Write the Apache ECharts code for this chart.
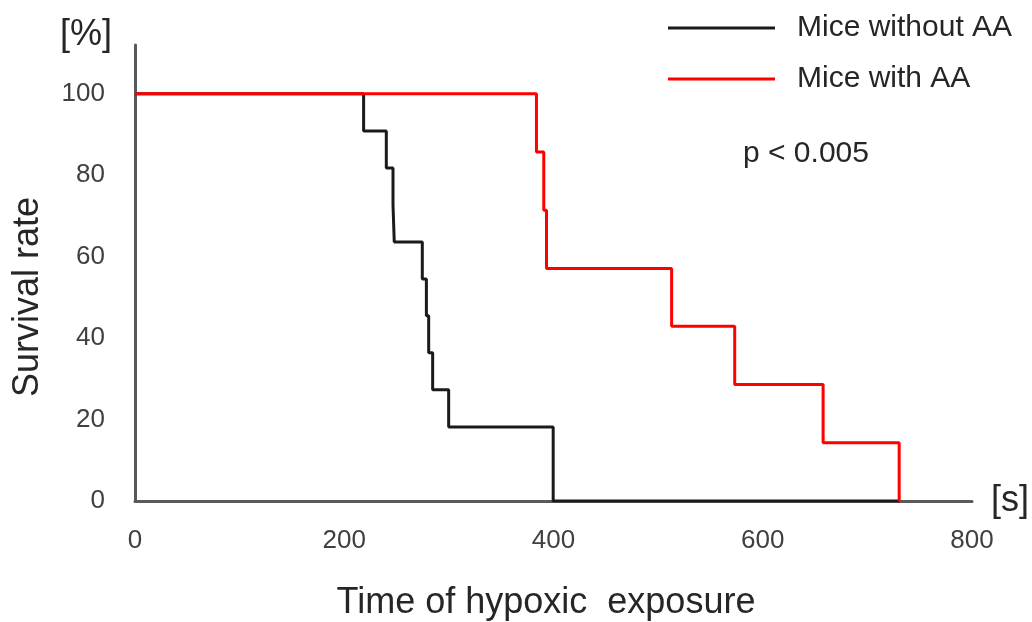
<!DOCTYPE html>
<html>
<head>
<meta charset="utf-8">
<script src="https://cdn.jsdelivr.net/npm/echarts@6/dist/echarts.min.js"></script>
<style>
  html, body { margin: 0; padding: 0; background: #fff; }
  #chart { width: 1032px; height: 622px; }
</style>
</head>
<body>
<div id="chart"></div>
<script>
// Kaplan–Meier survival under hypoxic exposure (time in seconds, survival in %)
const seriesNames = ['Mice without AA', 'Mice with AA'];

// Mice without AA (n = 11)
const timesWithout = [0, 218.5, 240.2, 246.6, 247.8, 274.6, 278.5, 280.7, 284.5, 299.8, 399.7, 730.4];
const survivalWithout = [100, 90.9, 81.8, 72.7, 63.6, 54.5, 45.5, 36.4, 27.3, 18.2, 0, 0];

// Mice with AA (n = 7)
const timesWith = [0, 383.7, 390.7, 393.3, 512.9, 573.2, 657.7, 730.4];
const survivalWith = [100, 85.7, 71.4, 57.1, 42.9, 28.6, 14.3, 0];

const xTicks = [0, 200, 400, 600, 800];
const yTicks = [0, 20, 40, 60, 80, 100];
const pValueText = 'p < 0.005';

const FONT = '"Liberation Sans", Arial, sans-serif';

const pairs = (xs, ys) => xs.map((x, i) => [x, ys[i]]);

const chart = echarts.init(document.getElementById('chart'), null, { renderer: 'canvas' });

chart.setOption({
  animation: false,
  backgroundColor: '#ffffff',
  grid: { left: 135, right: 60, top: 45, bottom: 121, containLabel: false },
  legend: {
    orient: 'vertical',
    left: 663,
    top: 5,
    icon: 'rect',
    itemWidth: 107,
    itemHeight: 3,
    itemGap: 15,
    data: seriesNames,
    textStyle: {
      fontFamily: FONT,
      fontSize: 30,
      color: '#262626',
      lineHeight: 36,
      padding: [0, 0, 0, 17]
    }
  },
  xAxis: {
    type: 'value',
    min: xTicks[0],
    max: xTicks[xTicks.length - 1],
    interval: xTicks[1] - xTicks[0],
    axisLine: { show: true, onZero: false, lineStyle: { color: '#595959', width: 3 } },
    axisTick: { show: false },
    splitLine: { show: false },
    axisLabel: {
      margin: 27,
      fontFamily: FONT,
      fontSize: 26,
      color: '#404040'
    }
  },
  yAxis: {
    type: 'value',
    min: yTicks[0],
    max: 112,
    interval: yTicks[1] - yTicks[0],
    axisLine: { show: true, lineStyle: { color: '#595959', width: 3 } },
    axisTick: { show: false },
    splitLine: { show: false },
    axisLabel: {
      margin: 30,
      showMaxLabel: false,
      fontFamily: FONT,
      fontSize: 26,
      color: '#404040',
      formatter: v => (yTicks.includes(v) ? String(v) : '')
    }
  },
  series: [
    {
      name: seriesNames[0],
      type: 'line',
      step: 'end',
      symbol: 'none',
      z: 2,
      lineStyle: { color: '#1a1a1a', width: 3 },
      itemStyle: { color: '#1a1a1a' },
      data: pairs(timesWithout, survivalWithout)
    },
    {
      name: seriesNames[1],
      type: 'line',
      step: 'end',
      symbol: 'none',
      z: 3,
      lineStyle: { color: '#ff0000', width: 3 },
      itemStyle: { color: '#ff0000' },
      data: pairs(timesWith, survivalWith)
    }
  ],
  graphic: [
    {
      type: 'text',
      x: 86, y: 35,
      style: { text: '[%]', font: '36px ' + FONT, fill: '#262626', align: 'center', verticalAlign: 'middle' }
    },
    {
      type: 'text',
      x: 1010, y: 501,
      style: { text: '[s]', font: '36px ' + FONT, fill: '#262626', align: 'center', verticalAlign: 'middle' }
    },
    {
      type: 'text',
      x: 28, y: 297,
      rotation: Math.PI / 2,
      style: { text: 'Survival rate', font: '36px ' + FONT, fill: '#262626', align: 'center', verticalAlign: 'middle' }
    },
    {
      type: 'text',
      x: 546, y: 603,
      style: { text: 'Time of hypoxic  exposure', font: '36px ' + FONT, fill: '#262626', align: 'center', verticalAlign: 'middle' }
    },
    {
      type: 'text',
      x: 743, y: 154,
      style: { text: pValueText, font: '30px ' + FONT, fill: '#262626', align: 'left', verticalAlign: 'middle' }
    }
  ]
});
</script>
</body>
</html>
